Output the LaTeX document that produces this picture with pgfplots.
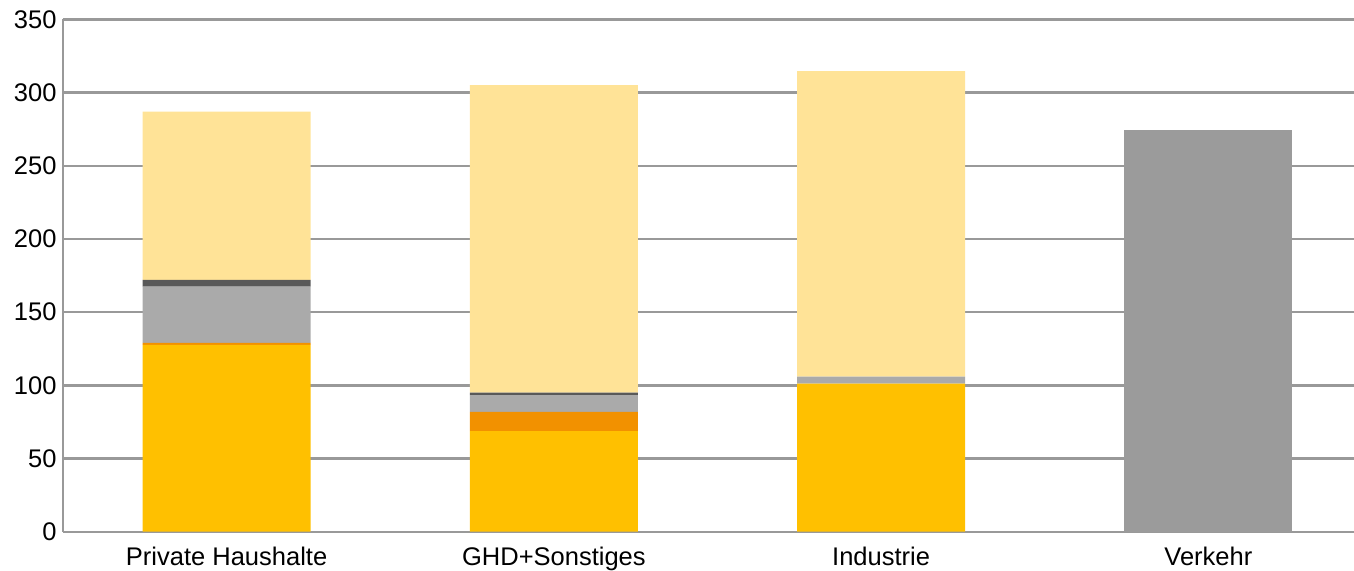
\documentclass[border=0pt]{standalone}
\usepackage{pgfplots}
\pgfplotsset{compat=1.18}
\usepackage{fontspec}
\setmainfont{Liberation Sans}
\definecolor{cYel}{HTML}{FFC000}
\definecolor{cOra}{HTML}{F29100}
\definecolor{cGry}{HTML}{AAAAAA}
\definecolor{cDrk}{HTML}{595959}
\definecolor{cLt}{HTML}{FFE397}
\definecolor{cVer}{HTML}{9B9B9B}
\definecolor{cGrid}{HTML}{999999}
\begin{document}
\begin{tikzpicture}
\begin{axis}[
  at={(0pt,0pt)}, anchor=south west,
  scale only axis,
  width=1309pt, height=512.2pt,
  ybar stacked, bar width=168pt,
  xmin=-0.5, xmax=3.5, ymin=0, ymax=350,
  xtick=data,
  xticklabels={Private Haushalte,GHD+Sonstiges,Industrie,Verkehr},
  ytick={0,50,...,350},
  ymajorgrids, grid style={cGrid, line width=2.4pt},
  major tick length=0pt,
  axis x line*=bottom, axis y line*=left,
  axis line style={cGrid, line width=2.4pt, -},
  tick label style={font=\fontsize{25.5}{29}\selectfont},
  yticklabel style={xshift=-3pt},
  xticklabel style={yshift=-12pt},
  /pgf/number format/assume math mode=true,
  axis on top=false,
  every axis plot/.append style={draw=none},
]
\addplot[fill=cYel] coordinates {(0,127.6) (1,68.8) (2,101.1) (3,0)};
\addplot[fill=cOra] coordinates {(0,1.5) (1,13.0) (2,0) (3,0)};
\addplot[fill=cGry] coordinates {(0,38.3) (1,11.6) (2,4.8) (3,0)};
\addplot[fill=cDrk] coordinates {(0,4.6) (1,1.6) (2,0) (3,0)};
\addplot[fill=cLt] coordinates {(0,115.0) (1,210.2) (2,208.9) (3,0)};
\addplot[fill=cVer] coordinates {(0,0) (1,0) (2,0) (3,274.5)};
\end{axis}
\pgfresetboundingbox
\path[use as bounding box] (-63pt,-38.3pt) rectangle (1291pt,531.7pt);
\end{tikzpicture}
\end{document}
